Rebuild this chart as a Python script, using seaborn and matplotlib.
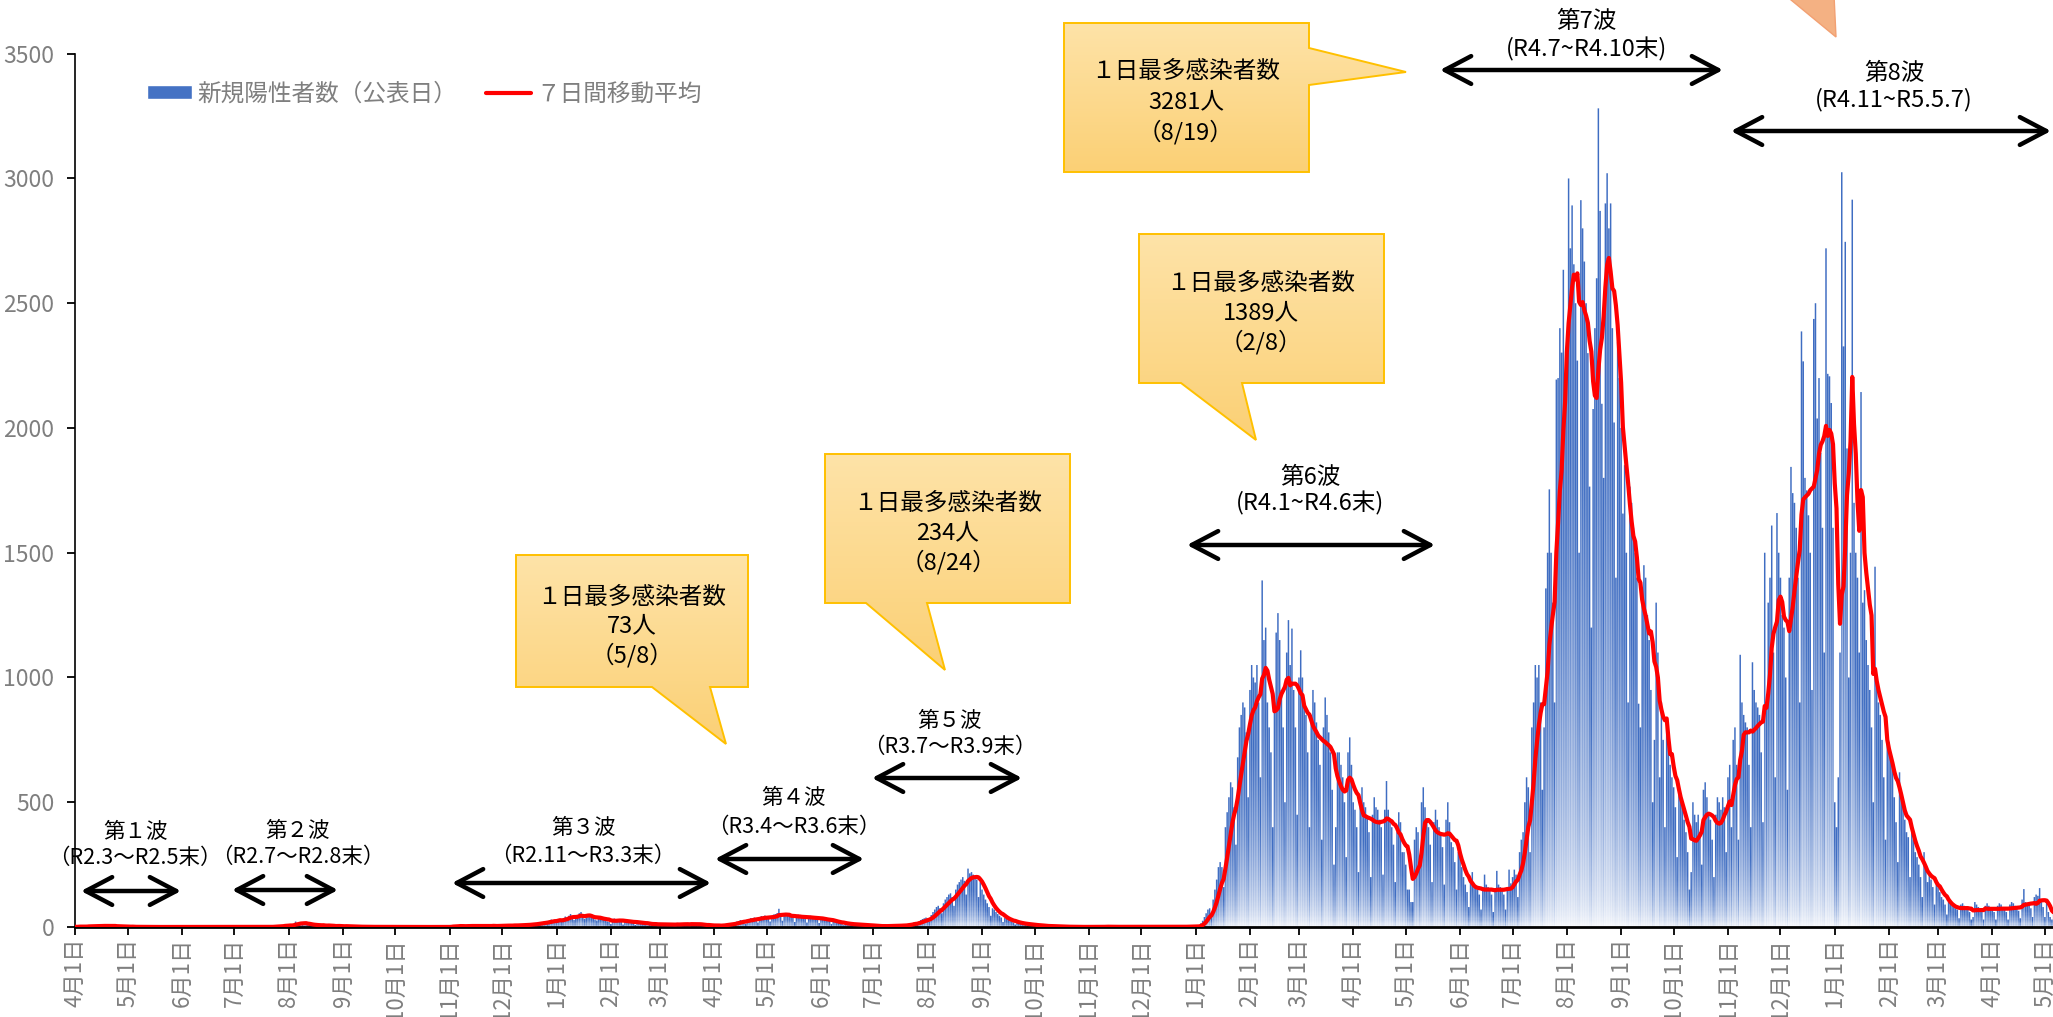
import numpy as np
import pandas as pd
import matplotlib
matplotlib.use('Agg')
import matplotlib.pyplot as plt
import seaborn as sns
from matplotlib.path import Path
from matplotlib.patches import Polygon, Patch
from matplotlib.lines import Line2D

# ============================================================================
# DATA - daily new positive cases (by announcement date), one list per month
# ============================================================================
cases_2020_04 = [1, 0, 2, 3, 1, 0, 4, 2, 5, 3, 6, 2, 1, 4, 5, 7, 3, 8, 2, 1, 6, 4, 3, 5, 2, 1, 0, 3, 2, 1]
cases_2020_05 = [1, 2, 0, 1, 0, 0, 1, 0, 0, 1, 0, 0, 0, 1, 0, 0, 0, 0, 0, 0, 1, 0, 0, 0, 0, 0, 0, 0, 0, 0, 0]
cases_2020_06 = [0, 0, 0, 0, 0, 0, 0, 0, 0, 0, 0, 0, 1, 0, 0, 0, 0, 0, 0, 0, 0, 0, 0, 0, 0, 0, 0, 0, 0, 0]
cases_2020_07 = [0, 0, 0, 0, 0, 0, 0, 0, 1, 0, 0, 0, 0, 1, 0, 0, 0, 0, 1, 0, 2, 1, 0, 3, 5, 2, 4, 6, 3, 8, 5]
cases_2020_08 = [10, 7, 4, 12, 22, 15, 18, 20, 12, 6, 14, 10, 9, 8, 11, 5, 3, 8, 6, 7, 9, 4, 3, 5, 6, 4, 2, 3, 5, 4, 2]
cases_2020_09 = [3, 2, 4, 1, 2, 1, 0, 2, 1, 3, 1, 0, 0, 1, 2, 0, 1, 0, 0, 0, 1, 0, 0, 1, 0, 0, 0, 1, 0, 0]
cases_2020_10 = [0, 1, 0, 0, 0, 0, 1, 0, 0, 0, 0, 0, 1, 0, 0, 0, 0, 0, 0, 0, 0, 1, 0, 0, 0, 0, 0, 0, 1, 0, 0]
cases_2020_11 = [1, 3, 8, 2, 4, 3, 5, 2, 1, 6, 4, 3, 5, 7, 2, 1, 4, 6, 3, 5, 8, 2, 1, 4, 5, 7, 3, 6, 4, 5]
cases_2020_12 = [5, 8, 6, 7, 4, 3, 6, 9, 8, 7, 10, 6, 5, 8, 11, 9, 12, 14, 10, 8, 16, 18, 15, 20, 22, 19, 14, 26, 30, 25, 28]
cases_2021_01 = [24, 30, 28, 22, 35, 42, 38, 45, 52, 40, 28, 36, 48, 55, 60, 44, 32, 38, 45, 50, 42, 38, 30, 26, 34, 40, 36, 30, 28, 22, 20]
cases_2021_02 = [12, 30, 34, 28, 32, 26, 20, 10, 24, 28, 22, 26, 18, 16, 8, 20, 22, 18, 15, 12, 14, 6, 10, 15, 12, 14, 10, 9]
cases_2021_03 = [5, 12, 14, 10, 12, 9, 8, 4, 11, 13, 15, 10, 12, 9, 6, 12, 14, 12, 15, 12, 10, 6, 12, 10, 9, 8, 7, 4, 6, 7, 6]
cases_2021_04 = [5, 8, 6, 4, 2, 9, 10, 12, 15, 14, 10, 6, 18, 22, 24, 28, 26, 22, 12, 30, 32, 36, 34, 38, 30, 18, 40, 44, 42, 46]
cases_2021_05 = [40, 36, 22, 44, 50, 52, 56, 73, 40, 25, 48, 55, 50, 52, 45, 38, 20, 42, 50, 48, 44, 42, 34, 18, 40, 45, 42, 40, 38, 30, 16]
cases_2021_06 = [36, 38, 34, 30, 28, 24, 12, 26, 24, 20, 18, 16, 14, 7, 15, 14, 12, 12, 10, 9, 4, 10, 11, 9, 8, 8, 6, 3, 7, 6]
cases_2021_07 = [5, 4, 3, 3, 1, 4, 5, 4, 5, 6, 3, 2, 5, 6, 7, 8, 6, 5, 3, 9, 12, 14, 16, 18, 15, 8, 22, 28, 32, 35, 38]
cases_2021_08 = [30, 22, 48, 60, 70, 80, 85, 76, 55, 95, 110, 120, 130, 135, 120, 85, 150, 170, 180, 190, 200,
                 185, 130, 234, 215, 220, 210, 205, 190, 120, 180]
cases_2021_09 = [150, 130, 110, 95, 80, 45, 75, 70, 60, 52, 45, 38, 20, 36, 32, 28, 25, 22, 18, 10, 18, 16, 15, 14, 12, 10, 5, 10, 10, 9]
cases_2021_10 = [8, 7, 5, 2, 6, 5, 4, 4, 3, 3, 1, 3, 2, 2, 2, 1, 1, 0, 2, 1, 1, 1, 0, 1, 0, 1, 0, 1, 0, 1, 0]
cases_2021_11 = [0, 1, 2, 1, 0, 1, 0, 0, 2, 1, 3, 1, 0, 0, 0, 1, 2, 1, 0, 1, 0, 0, 1, 0, 2, 1, 0, 1, 0, 0]
cases_2021_12 = [1, 0, 0, 1, 0, 0, 0, 1, 0, 0, 2, 0, 1, 0, 0, 1, 0, 0, 0, 1, 0, 2, 1, 0, 1, 3, 0, 2, 1, 3, 2]
cases_2022_01 = [3, 4, 2, 15, 25, 40, 55, 70, 75, 45, 110, 150, 190, 240, 260, 240, 160, 400, 460, 520, 580,
                 560, 480, 330, 680, 800, 850, 900, 880, 780, 520]
cases_2022_02 = [950, 1050, 1000, 980, 1050, 900, 600, 1389, 1150, 1200, 900, 800, 700, 400, 900, 1180, 1258, 1150,
                 950, 800, 500, 1100, 1230, 1050, 1196, 950, 800, 450]
cases_2022_03 = [1000, 1109, 1000, 900, 850, 700, 400, 850, 950, 900, 820, 750, 650, 350, 800, 920, 850, 780, 700, 550,
                 250, 400, 700, 700, 650, 600, 500, 280, 700, 760, 650]
cases_2022_04 = [500, 470, 400, 220, 480, 560, 500, 480, 440, 380, 200, 450, 520, 480, 470, 430, 400, 210, 470, 585,
                 470, 430, 400, 330, 180, 380, 460, 420, 300, 300]
cases_2022_05 = [250, 150, 150, 100, 100, 350, 400, 380, 250, 500, 560, 480, 430, 400, 330, 180, 420, 470, 430, 400,
                 380, 320, 170, 430, 500, 420, 340, 320, 260, 150, 300]
cases_2022_06 = [280, 240, 200, 170, 140, 80, 180, 220, 170, 160, 150, 130, 70, 160, 210, 170, 160, 150, 130, 60,
                 150, 225, 170, 160, 150, 130, 70, 160, 230, 175]
cases_2022_07 = [200, 230, 210, 120, 300, 350, 380, 500, 600, 560, 300, 800, 900, 1050, 1000, 1050, 900, 550, 800,
                 1357, 1500, 1754, 1500, 1300, 900, 2194, 2200, 2400, 2302, 2634, 2100]
cases_2022_08 = [2300, 3000, 2720, 2892, 2656, 2500, 2270, 1500, 2913, 2800, 2667, 2500, 2300, 1765, 1200, 2076,
                 2400, 2600, 3281, 2870, 2097, 1800, 2900, 3021, 2800, 2900, 2400, 2022, 1400, 2345, 2200]
cases_2022_09 = [2000, 1657, 1851, 1500, 900, 1765, 1700, 1600, 1500, 1400, 895, 800, 1292, 1450, 1400, 1250, 1150,
                 950, 500, 750, 1300, 1100, 600, 900, 750, 400, 800, 750, 650, 600]
cases_2022_10 = [560, 480, 280, 550, 520, 480, 430, 380, 300, 150, 220, 500, 450, 420, 450, 380, 250, 550, 580, 520,
                 450, 430, 350, 200, 450, 520, 500, 470, 520, 480, 300]
cases_2022_11 = [600, 650, 400, 750, 800, 650, 350, 1091, 900, 850, 820, 800, 650, 400, 1061, 950, 900, 880, 850, 700,
                 420, 1500, 900, 1300, 1400, 1609, 1100, 600, 1659, 1500]
cases_2022_12 = [1400, 1250, 1200, 1000, 550, 1400, 1844, 1739, 1700, 1600, 1400, 900, 2387, 2267, 1800, 1750, 1650,
                 1500, 950, 2437, 2500, 2038, 2200, 1900, 1600, 1100, 2720, 2217, 2207, 2100, 1600]
cases_2023_01 = [500, 400, 600, 1100, 3025, 2327, 2746, 1918, 1000, 1500, 2915, 1700, 1500, 1400, 1100, 2144, 1300,
                 1350, 1150, 1050, 950, 800, 500, 1444, 1000, 900, 850, 750, 600, 350, 800]
cases_2023_02 = [742, 700, 650, 520, 420, 260, 620, 540, 480, 430, 380, 360, 200, 400, 350, 300, 280, 250, 200, 120,
                 300, 240, 180, 210, 190, 160, 90, 190]
cases_2023_03 = [160, 140, 120, 110, 90, 50, 100, 95, 85, 80, 75, 70, 35, 90, 95, 85, 80, 75, 60, 30, 40, 100, 90, 80,
                 75, 60, 30, 85, 95, 85, 80]
cases_2023_04 = [75, 60, 30, 85, 95, 90, 80, 75, 60, 30, 90, 100, 95, 85, 80, 65, 35, 110, 152, 100, 95, 90, 75, 40,
                 120, 130, 125, 156, 100, 80]
cases_2023_05 = [40, 110, 60, 40, 30, 50, 60]

monthly_cases = [cases_2020_04, cases_2020_05, cases_2020_06, cases_2020_07, cases_2020_08, cases_2020_09,
                 cases_2020_10, cases_2020_11, cases_2020_12, cases_2021_01, cases_2021_02, cases_2021_03,
                 cases_2021_04, cases_2021_05, cases_2021_06, cases_2021_07, cases_2021_08, cases_2021_09,
                 cases_2021_10, cases_2021_11, cases_2021_12, cases_2022_01, cases_2022_02, cases_2022_03,
                 cases_2022_04, cases_2022_05, cases_2022_06, cases_2022_07, cases_2022_08, cases_2022_09,
                 cases_2022_10, cases_2022_11, cases_2022_12, cases_2023_01, cases_2023_02, cases_2023_03,
                 cases_2023_04, cases_2023_05]

# wave labels: (title, period)
wave_titles = ['第１波', '第２波', '第３波', '第４波', '第５波', '第6波', '第7波', '第8波']
wave_periods = ['（R2.3～R2.5末）', '（R2.7～R2.8末）', '（R2.11～R3.3末）', '（R3.4～R3.6末）',
                '（R3.7～R3.9末）', '(R4.1~R4.6末)', '(R4.7~R4.10末)', '(R4.11~R5.5.7)']

# peak callouts
peak_counts = ['73人', '234人', '1389人', '3281人']
peak_dates = ['（5/8）', '（8/24）', '（2/8）', '（8/19）']

legend_labels = ['新規陽性者数（公表日）', '７日間移動平均']

# ============================================================================
# BUILD DAILY SERIES
# ============================================================================
start = pd.Timestamp('2020-04-01')
month_starts = pd.date_range(start, periods=len(monthly_cases), freq='MS')
parts = []
for ms, vals in zip(month_starts, monthly_cases):
    if ms != month_starts[-1] and len(vals) != ms.days_in_month:
        print(f'length mismatch {ms:%Y-%m}: {len(vals)} vs {ms.days_in_month}')
    parts.append(pd.Series(vals, index=pd.date_range(ms, periods=len(vals), freq='D'), dtype=float))
daily = pd.concat(parts)
daily = daily[~daily.index.duplicated()]
daily = daily.reindex(pd.date_range(start, daily.index.max(), freq='D'), fill_value=0)
moving_avg = daily.rolling(7, min_periods=1).mean()

day = np.arange(len(daily))
cases = daily.values
tick_days = [(d - start).days for d in month_starts]
tick_labels = [f'{d.month}月1日' for d in month_starts]

# ============================================================================
# PLOT
# ============================================================================
sns.set_theme(style='white')
plt.rcParams['font.family'] = ['Noto Sans CJK JP', 'DejaVu Sans']

W, H = 2053, 1017
BLUE = '#4472C4'
GRAY = '#7f7f7f'
PX_PER_DAY = 1.751

fig = plt.figure(figsize=(W / 100, H / 100), dpi=100)
ax = fig.add_axes([75 / W, (H - 927) / H, 1 - 75 / W, (927 - 53.7) / H])

# bars (seaborn), then a vertical gradient clipped to the bar shapes
sns.barplot(x=day, y=cases, native_scale=True, color=BLUE, errorbar=None, width=0.85,
            ax=ax, zorder=2)
verts, codes = [], []
for r in ax.patches:
    x0, w, h = r.get_x(), r.get_width(), r.get_height()
    r.set_visible(False)
    if h <= 0:
        continue
    verts += [(x0, 0), (x0 + w, 0), (x0 + w, h), (x0, h), (x0, 0)]
    codes += [Path.MOVETO, Path.LINETO, Path.LINETO, Path.LINETO, Path.CLOSEPOLY]
bar_path = Path(verts, codes)

rows = 700
yc = (np.arange(rows) + 0.5) * 3500 / rows
frac = np.clip(yc[:, None] / np.maximum(cases[None, :], 1e-9), 0, 1)
t = np.clip(frac / 0.7, 0, 1) ** 0.55
top_rgb = np.array(matplotlib.colors.to_rgb('#3F6DC2'))
bot_rgb = np.array([1.0, 1.0, 1.0])
rgba = np.ones((rows, len(day), 4))
rgba[..., :3] = bot_rgb * (1 - t[..., None]) + top_rgb * t[..., None]
img = ax.imshow(rgba, extent=[day[0] - 0.5, day[-1] + 0.5, 0, 3500], origin='lower',
                aspect='auto', interpolation='nearest', zorder=2)
img.set_clip_path(bar_path, ax.transData)

# 7-day moving average
sns.lineplot(x=day, y=moving_avg.values, color='#FF0000', linewidth=3.0, estimator=None,
             errorbar=None, ax=ax, zorder=3)

ax.set_xlim(0, (W - 75) / PX_PER_DAY)
ax.set_ylim(0, 3500)
ax.set_yticks(range(0, 3501, 500))
ax.set_xticks(tick_days)
ax.set_xticklabels(tick_labels, rotation=90)
ax.set_xlabel('')
ax.set_ylabel('')
ax.tick_params(axis='x', bottom=True, length=6, width=1.3, color='black', labelsize=16,
               labelcolor=GRAY, pad=2)
ax.tick_params(axis='y', left=True, length=6, width=1.3, color='black', labelsize=16.5,
               labelcolor=GRAY, pad=9)
for sp in ['top', 'right']:
    ax.spines[sp].set_visible(False)
ax.spines['left'].set_color('black')
ax.spines['left'].set_linewidth(1.2)
ax.spines['bottom'].set_color('black')
ax.spines['bottom'].set_linewidth(2.0)

handles = [Patch(facecolor=BLUE, label=legend_labels[0]),
           Line2D([], [], color='#FF0000', lw=3, label=legend_labels[1])]
ax.legend(handles=handles, loc='center left', bbox_to_anchor=(147 / W, 1 - 94 / H),
          bbox_transform=fig.transFigure, ncol=2, frameon=False, fontsize=17,
          handlelength=1.9, handleheight=0.55, handletextpad=0.25, columnspacing=1.2,
          labelcolor=GRAY, borderpad=0, borderaxespad=0)

# ============================================================================
# ANNOTATIONS (overlay in figure pixels, origin top-left)
# ============================================================================
ov = fig.add_axes([0, 0, 1, 1], zorder=5)
ov.patch.set_alpha(0)

# wave arrows: (x_left, x_right, y) and text centres
wave_arrows = [(81, 181, 891), (232, 338, 890), (452, 711, 883), (715, 864, 859), (872, 1022, 778),
               (1187, 1435, 545), (1440, 1723, 70), (1731, 2051, 131)]
wave_text_pos = [(135, 832, 858), (298, 831, 857), (583, 828, 856), (794, 798, 827), (950, 721, 747),
                 (1310, 478, 503), (1586, 22, 49), (1894, 73, 100)]
for i, ((xl, xr, ya), (tx, ty1, ty2)) in enumerate(zip(wave_arrows, wave_text_pos)):
    ov.annotate('', xy=(xr, ya), xytext=(xl, ya), xycoords='data',
                arrowprops=dict(arrowstyle='<->,head_length=0.95,head_width=0.5', lw=3.2,
                                color='black', shrinkA=0, shrinkB=0, mutation_scale=20))
    size = 15.5 if i < 5 else 17
    ov.text(tx, ty1, wave_titles[i], ha='center', va='center', fontsize=size, color='black')
    ov.text(tx, ty2, wave_periods[i], ha='center', va='center', fontsize=size, color='black')

# peak callouts: polygon outline (rect + tail) and text line positions
callouts = [
    [(516, 555), (748, 555), (748, 687), (710, 687), (726, 744), (652, 687), (516, 687)],
    [(825, 454), (1070, 454), (1070, 603), (927, 603), (945, 670), (866, 603), (825, 603)],
    [(1139, 234), (1384, 234), (1384, 383), (1242, 383), (1256, 440), (1181, 383), (1139, 383)],
    [(1064, 23), (1309, 23), (1309, 48), (1406, 72), (1309, 85), (1309, 172), (1064, 172)],
]
callout_text = [(632, 597, 626, 655), (948, 503, 533, 562), (1261, 283, 313, 342), (1186, 72, 102, 132)]
c_top = np.array(matplotlib.colors.to_rgb('#FEE3A8'))
c_bot = np.array(matplotlib.colors.to_rgb('#FBD075'))
for verts_c, (cx, y1, y2, y3), cnt, dt in zip(callouts, callout_text, peak_counts, peak_dates):
    poly = Polygon(verts_c, closed=True, facecolor='none', edgecolor='#FFC000', lw=1.4, zorder=7)
    ov.add_patch(poly)
    xs = [v[0] for v in verts_c]
    ys = [v[1] for v in verts_c]
    g = np.linspace(0, 1, 200)[:, None, None]
    grad = np.ones((200, 2, 4))
    grad[..., :3] = c_top * (1 - g) + c_bot * g
    im = ov.imshow(grad, extent=[min(xs), max(xs), max(ys), min(ys)], origin='upper',
                   aspect='auto', interpolation='bilinear', zorder=6)
    im.set_clip_path(poly)
    ov.text(cx, y1, '１日最多感染者数', ha='center', va='center', fontsize=17, color='black', zorder=8)
    ov.text(cx, y2, cnt, ha='center', va='center', fontsize=17, color='black', zorder=8)
    ov.text(cx, y3, dt, ha='center', va='center', fontsize=17, color='black', zorder=8)

# tail of a callout cut off above the chart
ov.add_patch(Polygon([(1785, -5), (1834, -5), (1836, 37)], closed=True, facecolor='#F4B183',
                     edgecolor='#F2A072', lw=1.0, zorder=6))

ov.set_xlim(0, W)
ov.set_ylim(H, 0)
ov.axis('off')

plt.savefig('out.png', dpi=100)
print('Saved: out.png')
